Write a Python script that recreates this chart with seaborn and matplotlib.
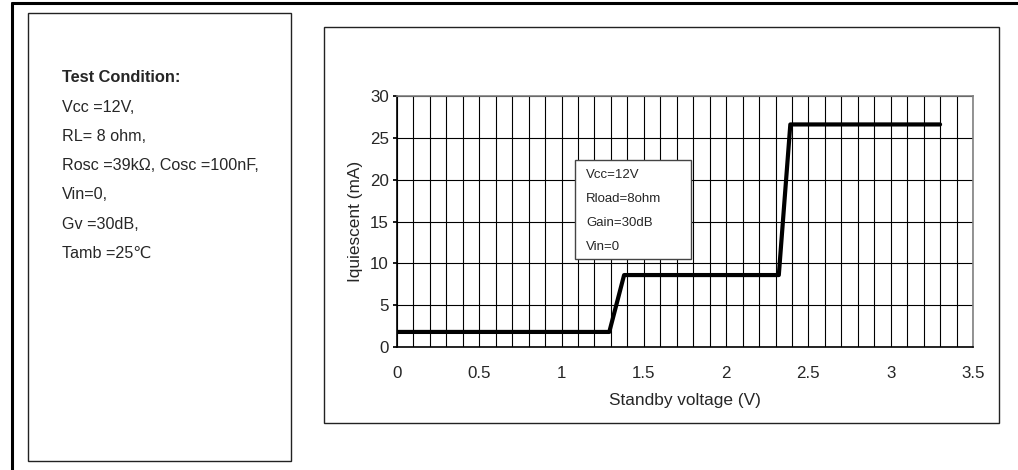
import matplotlib
matplotlib.use("Agg")
import matplotlib.pyplot as plt
import seaborn as sns
import pandas as pd
import numpy as np
from matplotlib.patches import Rectangle
from matplotlib.lines import Line2D

# Curve
standby_v = [0.0, 1.29, 1.38, 2.32, 2.39, 3.30]
iq_ma = [1.8, 1.8, 8.6, 8.6, 26.6, 26.6]

x_ticks = [0, 0.5, 1, 1.5, 2, 2.5, 3, 3.5]
x_tick_labels = ["0", "0.5", "1", "1.5", "2", "2.5", "3", "3.5"]
y_ticks = [0, 5, 10, 15, 20, 25, 30]

conditions = ["Vcc =12V,", "RL= 8 ohm,", "Rosc =39kΩ, Cosc =100nF,",
              "Vin=0,", "Gv =30dB,", "Tamb =25℃"]
legend_lines = ["Vcc=12V", "Rload=8ohm", "Gain=30dB", "Vin=0"]

sns.set_theme(style="white")
plt.rcParams['font.family'] = ['Liberation Sans', 'DejaVu Sans']

W, H = 1018, 470
fig = plt.figure(figsize=(W / 100, H / 100), dpi=100)


def px(x, y):
    return x / W, 1 - y / H


# outer frame (partially cropped)
fig.add_artist(Line2D([12 / W, 1], [1 - 3 / H] * 2, color="black", lw=2.2))
fig.add_artist(Line2D([12 / W] * 2, [1 - 3 / H, 0], color="black", lw=2.2))

# left box with test conditions
fig.add_artist(Rectangle(px(28, 461), (291 - 28) / W, (461 - 13) / H,
                         fill=False, ec="#222222", lw=1.0))
fig.text(*px(62, 78), "Test Condition:", fontsize=11.8, fontweight="bold", va="center")
for i, line in enumerate(conditions):
    fig.text(*px(62, 107 + i * 29.3), line, fontsize=11.6, va="center")

# chart frame
fig.add_artist(Rectangle(px(324, 423), (999 - 324) / W, (423 - 27) / H,
                         fill=False, ec="#222222", lw=1.0))

ax = fig.add_axes([397 / W, (H - 347) / H, (973 - 397) / W, (347 - 96) / H])
df = pd.DataFrame({"v": standby_v, "i": iq_ma})
sns.lineplot(data=df, x="v", y="i", ax=ax, color="black", lw=3, zorder=5)

ax.set_xlim(0, 3.5)
ax.set_ylim(0, 30)
ax.set_xticks(x_ticks)
ax.set_xticklabels(x_tick_labels)
ax.set_xticks(np.arange(0, 3.51, 0.1), minor=True)
ax.set_yticks(y_ticks)
ax.grid(True, which="both", color="black", lw=0.8)
ax.tick_params(axis="x", which="both", length=0, pad=14, labelsize=12.2)
ax.tick_params(axis="y", length=3, color="black", direction="out", left=True,
               pad=3, labelsize=12.2)
ax.set_xlabel("Standby voltage (V)", fontsize=12.4, labelpad=8)
ax.set_ylabel("Iquiescent (mA)", fontsize=12.4, labelpad=5)
for side in ["left", "bottom"]:
    ax.spines[side].set_color("black")
    ax.spines[side].set_linewidth(1.2)
for side in ["top", "right"]:
    ax.spines[side].set_color("#808080")
    ax.spines[side].set_linewidth(1.2)

# parameter box inside the plot
ax.add_patch(Rectangle((0.309, 0.351), 0.201, 0.394, transform=ax.transAxes,
                       fc="white", ec="#444444", lw=1.0, zorder=6))
for i, line in enumerate(legend_lines):
    ax.text(0.328, 0.685 - i * 0.0955, line, transform=ax.transAxes,
            fontsize=9.5, va="center", zorder=7)

fig.savefig("out.png", dpi=100)
